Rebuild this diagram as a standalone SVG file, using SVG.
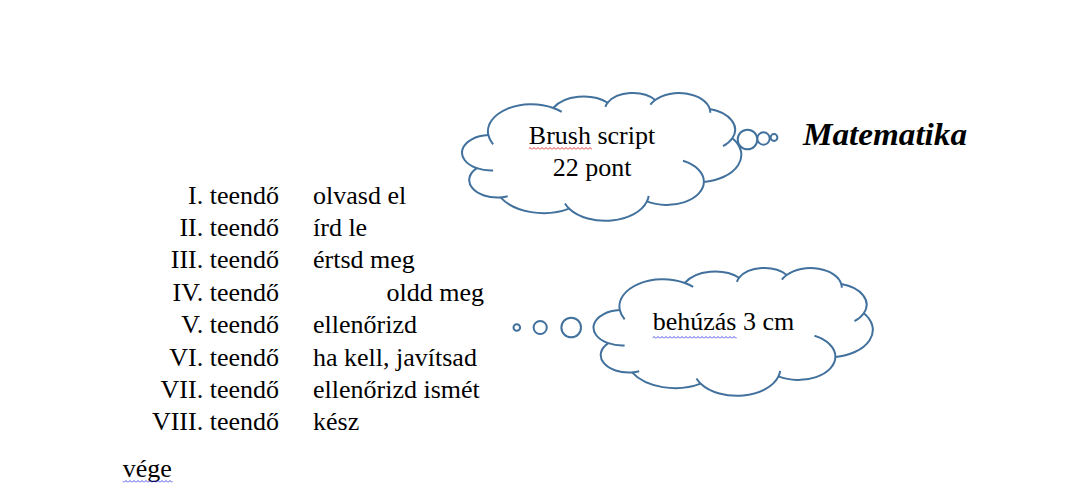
<svg xmlns="http://www.w3.org/2000/svg" xmlns:xlink="http://www.w3.org/1999/xlink" width="1074" height="491" viewBox="0 0 1074 491">
<style>
.t{font-family:"Liberation Serif","Times New Roman",serif;font-size:26px;fill:#000}
.r{text-anchor:end}
.m{text-anchor:middle}
.cl{fill:#fff;stroke:#41719C;stroke-width:2;stroke-linejoin:round}
.sm{fill:none;stroke:#41719C;stroke-width:2;stroke-linecap:butt}
.bub{fill:#fff;stroke:#41719C;stroke-width:2}
.title{font-family:"Brush Script MT","Liberation Serif",serif;font-style:italic;font-weight:bold;font-size:31px;fill:#000}
</style>
<defs>
<path id="cloudOutline" vector-effect="non-scaling-stroke" d="M3900,14370 A6753,9190 0 0 1 14005,5202 A5333,7267 0 0 1 22456,3432 A4365,5945 0 0 1 29833,2481 A4857,6595 0 0 1 38318,5576 A5333,7273 0 0 1 41819,15460 A6775,9220 0 0 1 37405,30203 A5785,7867 0 0 1 28556,36813 A6752,9215 0 0 1 16481,39264 A7720,10543 0 0 1 5805,35470 A4360,5918 0 0 1 2114,25548 A4345,5945 0 0 1 3900,14370 Z"/>
<path id="cloudSeams" vector-effect="non-scaling-stroke" d="M4647,26345 A4345,5945 0 0 1 2114,25548 M6914,35089 A4360,5918 0 0 1 5805,35470 M16481,39264 A6752,9215 0 0 1 15813,37525 M28823,34904 A6752,9215 0 0 1 28556,36813 M34153,23067 A5785,7867 0 0 1 37405,30203 M41819,15460 A5333,7273 0 0 1 40370,18136 M38318,5576 A4857,6595 0 0 1 38395,6839 M29091,4093 A4857,6595 0 0 1 29833,2481 M22097,4821 A4365,5945 0 0 1 22456,3432 M14005,5202 A6753,9190 0 0 1 15304,6549 M4653,17508 A6753,9190 0 0 1 3900,14370"/>
<pattern id="wavyRed" width="4" height="3" patternUnits="userSpaceOnUse"><path d="M0,2.5 L2,0.5 L4,2.5" fill="none" stroke="#e00000" stroke-width="0.8"/></pattern>
<pattern id="wavyBlue" width="4" height="3" patternUnits="userSpaceOnUse"><path d="M0,2.5 L2,0.5 L4,2.5" fill="none" stroke="#2020e0" stroke-width="0.8"/></pattern>
</defs>

<g id="cloud1">
  <g transform="translate(463.2,92.6) scale(0.006435,0.002956)">
    <use xlink:href="#cloudOutline" class="cl"/>
    <use xlink:href="#cloudSeams" class="sm"/>
  </g>
  <circle class="bub" cx="747.5" cy="139.5" r="9.8"/>
  <circle class="bub" cx="763.5" cy="138.5" r="6.2"/>
  <circle class="bub" cx="774" cy="137.5" r="3.4"/>
  <text class="t m" x="592" y="144.3">Brush script</text>
  <text class="t m" x="592" y="175.7">22 pont</text>
  <rect x="529" y="147" width="63" height="3" fill="url(#wavyRed)"/>
</g>

<g id="cloud2">
  <g transform="translate(594.7,267.6) scale(0.006435,0.002956)">
    <use xlink:href="#cloudOutline" class="cl"/>
    <use xlink:href="#cloudSeams" class="sm"/>
  </g>
  <circle class="bub" cx="571.2" cy="327.5" r="9.8"/>
  <circle class="bub" cx="540.2" cy="327.5" r="6.6"/>
  <circle class="bub" cx="516.8" cy="327.5" r="3.3"/>
  <text class="t" x="652.7" y="330">behúzás 3 cm</text>
  <rect x="652.7" y="336" width="84" height="3" fill="url(#wavyBlue)"/>
</g>

<g id="title">
  <text class="title" x="803" y="145" textLength="164" lengthAdjust="spacingAndGlyphs">Matematika</text>
</g>

<g id="list">
  <text class="t r" x="279" y="203.5">I. teendő</text>
  <text class="t r" x="279" y="235.9">II. teendő</text>
  <text class="t r" x="279" y="268.3">III. teendő</text>
  <text class="t r" x="279" y="300.7">IV. teendő</text>
  <text class="t r" x="279" y="333.1">V. teendő</text>
  <text class="t r" x="279" y="365.5">VI. teendő</text>
  <text class="t r" x="279" y="397.9">VII. teendő</text>
  <text class="t r" x="279" y="430.3">VIII. teendő</text>
  <text class="t" x="313" y="203.5">olvasd el</text>
  <text class="t" x="313" y="235.9">írd le</text>
  <text class="t" x="313" y="268.3">értsd meg</text>
  <text class="t" x="386.5" y="300.7">oldd meg</text>
  <text class="t" x="313" y="333.1">ellenőrizd</text>
  <text class="t" x="313" y="365.5">ha kell, javítsad</text>
  <text class="t" x="313" y="397.9">ellenőrizd ismét</text>
  <text class="t" x="313" y="430.3">kész</text>
</g>

<g id="end">
  <text class="t" x="122.7" y="476.5">vége</text>
  <rect x="122.7" y="480" width="50" height="3" fill="url(#wavyBlue)"/>
</g>

<g id="connectors"/>
</svg>
